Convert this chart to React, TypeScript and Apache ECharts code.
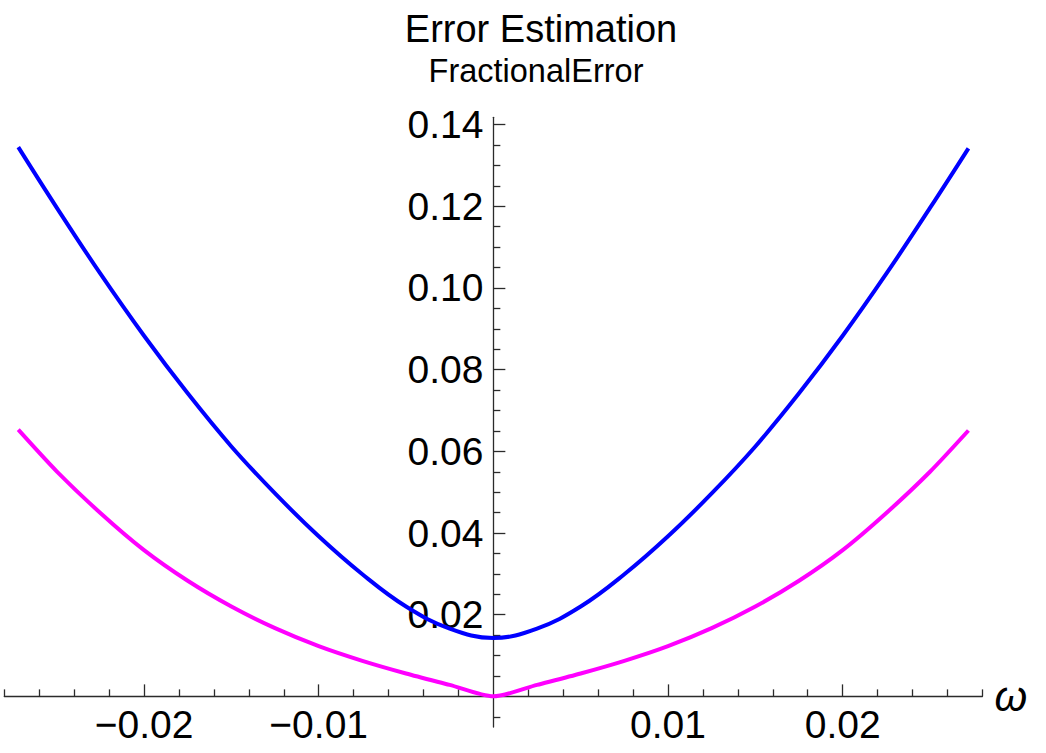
import React, { useEffect, useRef } from "react";
import * as echarts from "echarts";

const omega = [
  -0.0272, -0.025, -0.0225, -0.02, -0.0175, -0.015, -0.0125, -0.01, -0.0075, -0.005, -0.0025,
  0,
  0.0025, 0.005, 0.0075, 0.01, 0.0125, 0.015, 0.0175, 0.02, 0.0225, 0.025, 0.0272,
];
const blueValues = [
  0.1345, 0.1197, 0.1035, 0.0883, 0.0742, 0.0612, 0.0497, 0.0392, 0.0299, 0.022, 0.0166,
  0.0143,
  0.0166, 0.022, 0.0299, 0.0392, 0.0497, 0.0612, 0.0742, 0.0883, 0.1035, 0.1196, 0.1342,
];
const magentaValues = [
  0.0653, 0.0551, 0.0449, 0.0358, 0.0283, 0.022, 0.0167, 0.0123, 0.0087, 0.0056, 0.0028,
  0,
  0.0028, 0.0056, 0.0087, 0.0123, 0.0167, 0.022, 0.0283, 0.0358, 0.0449, 0.055, 0.0651,
];

const xMajorTicks = [-0.02, -0.01, 0.01, 0.02];
const xMinorTicks = [
  -0.028, -0.026, -0.024, -0.022, -0.018, -0.016, -0.014, -0.012, -0.008, -0.006, -0.004, -0.002,
  0.002, 0.004, 0.006, 0.008, 0.012, 0.014, 0.016, 0.018, 0.022, 0.024, 0.026, 0.028,
];
const yMajorTicks = [0.02, 0.04, 0.06, 0.08, 0.1, 0.12, 0.14];
const yMinorTicks = [
  -0.005, 0.005, 0.01, 0.015, 0.025, 0.03, 0.035, 0.045, 0.05, 0.055, 0.065, 0.07, 0.075, 0.085,
  0.09, 0.095, 0.105, 0.11, 0.115, 0.125, 0.13, 0.135,
];

const titleText = "Error Estimation";
const yLabelText = "FractionalError";
const xLabelText = "ω";

const X_MIN = -0.028;
const X_MAX = 0.028;
const Y_MIN = -0.0075;
const Y_MAX = 0.1418;

const W = 1046;
const H = 753;
const GRID_LEFT = 4.3;
const GRID_RIGHT = 63.6;
const GRID_TOP = 117.3;
const GRID_BOTTOM = 26;

const FONT = "'Liberation Sans', Arial, sans-serif";
const AXIS_COLOR = "#2b2b2b";

export default function App() {
  const ref = useRef<HTMLDivElement>(null);
  useEffect(() => {
    if (!ref.current) return;
    const chart = echarts.init(ref.current, null, { renderer: "svg" });
    const fmt = (v: number) => (v < 0 ? "\u2212" + Math.abs(v).toFixed(2) : v.toFixed(2));
    const lineStyle = { color: AXIS_COLOR, width: 1.3 };
    const gridW = W - GRID_LEFT - GRID_RIGHT;
    const gridH = H - GRID_TOP - GRID_BOTTOM;
    // axes cross at the origin: shift them inward from the grid edges
    const yAxisOffset = -gridW * ((0 - X_MIN) / (X_MAX - X_MIN));
    const xAxisOffset = -gridH * ((0 - Y_MIN) / (Y_MAX - Y_MIN));
    chart.setOption({
      animation: false,
      backgroundColor: "#ffffff",
      title: [
        {
          text: titleText,
          left: 536,
          top: 5,
          textAlign: "center",
          textStyle: { fontFamily: FONT, fontSize: 38, fontWeight: "normal", color: "#000" },
        },
        {
          text: yLabelText,
          left: 531,
          top: 49,
          textAlign: "center",
          textStyle: { fontFamily: FONT, fontSize: 32.5, fontWeight: "normal", color: "#000" },
        },
      ],
      grid: {
        left: GRID_LEFT,
        right: GRID_RIGHT,
        top: GRID_TOP,
        bottom: GRID_BOTTOM,
        containLabel: false,
        outerBoundsMode: "none",
      },
      xAxis: [
        {
          type: "value",
          min: X_MIN,
          max: X_MAX,
          position: "bottom",
          offset: xAxisOffset,
          name: xLabelText,
          nameLocation: "end",
          nameGap: 12,
          nameTextStyle: { fontFamily: FONT, fontSize: 42, fontStyle: "italic", color: "#000" },
          axisLine: { show: true, onZero: false, lineStyle },
          axisTick: { show: true, inside: true, length: 12, lineStyle, customValues: xMajorTicks },
          axisLabel: {
            show: true,
            customValues: xMajorTicks,
            formatter: fmt,
            fontFamily: FONT,
            fontSize: 39,
            color: "#000",
            margin: 9,
          },
          splitLine: { show: false },
        },
        {
          type: "value",
          min: X_MIN,
          max: X_MAX,
          position: "bottom",
          offset: xAxisOffset,
          axisLine: { show: false, onZero: false },
          axisTick: { show: true, inside: true, length: 7, lineStyle, customValues: xMinorTicks },
          axisLabel: { show: false },
          splitLine: { show: false },
        },
      ],
      yAxis: [
        {
          type: "value",
          min: Y_MIN,
          max: Y_MAX,
          position: "left",
          offset: yAxisOffset,
          axisLine: { show: true, onZero: false, lineStyle },
          axisTick: { show: true, inside: true, length: 12, lineStyle, customValues: yMajorTicks },
          axisLabel: {
            show: true,
            customValues: yMajorTicks,
            formatter: fmt,
            fontFamily: FONT,
            fontSize: 39,
            color: "#000",
            margin: 10,
          },
          splitLine: { show: false },
        },
        {
          type: "value",
          min: Y_MIN,
          max: Y_MAX,
          position: "left",
          offset: yAxisOffset,
          axisLine: { show: false, onZero: false },
          axisTick: { show: true, inside: true, length: 7, lineStyle, customValues: yMinorTicks },
          axisLabel: { show: false },
          splitLine: { show: false },
        },
      ],
      series: [
        {
          name: "blue",
          type: "line",
          data: omega.map((x, i) => [x, blueValues[i]]),
          showSymbol: false,
          smooth: 0.4,
          lineStyle: { color: "#0000ff", width: 4 },
          z: 3,
        },
        {
          name: "magenta",
          type: "line",
          data: omega.map((x, i) => [x, magentaValues[i]]),
          showSymbol: false,
          smooth: 0.25,
          lineStyle: { color: "#ff00ff", width: 4 },
          z: 3,
        },
      ],
    });
    return () => chart.dispose();
  }, []);
  return (
    <div
      ref={ref}
      style={{ position: "fixed", left: 0, top: 0, width: W, height: H, background: "#fff" }}
    />
  );
}
